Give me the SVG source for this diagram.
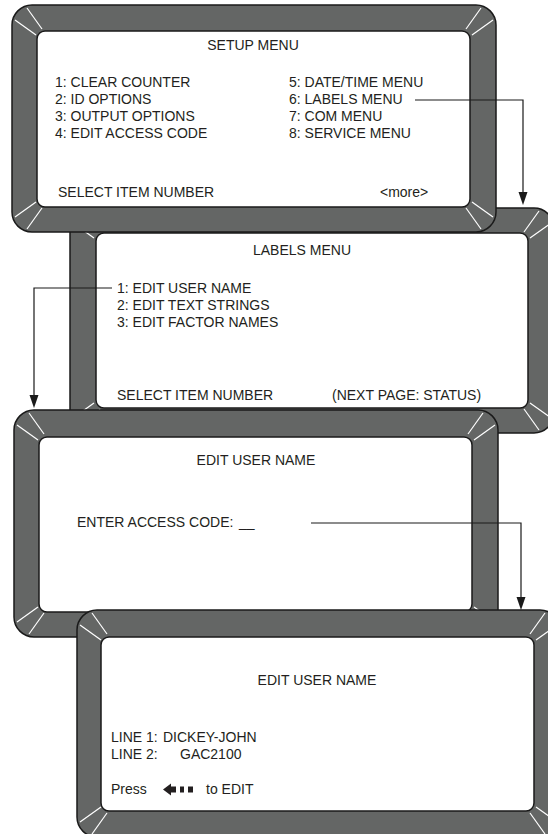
<svg xmlns="http://www.w3.org/2000/svg" xmlns:xlink="http://www.w3.org/1999/xlink" width="548" height="834" viewBox="0 0 548 834">
<style>
.outer{fill:#646665;stroke:#1a1a1a;stroke-width:1.5}
.inner{fill:#ffffff;stroke:#1a1a1a;stroke-width:1.5}
.bv line{stroke:#ffffff;stroke-width:1.2}
text{font-family:"Liberation Sans",Arial,sans-serif;font-size:14px;fill:#231f20}
.mid{text-anchor:middle}
.conn{fill:none;stroke:#1a1a1a;stroke-width:1.2}
.ah{fill:#1a1a1a}
</style>
<defs>
<g id="bv" class="bv"><line x1="15" y1="3" x2="30" y2="24"/><line x1="3" y1="15" x2="24" y2="30"/></g>
</defs>

<g id="labels-menu">
<rect class="outer" x="70" y="208" width="484" height="225" rx="20"/>
<rect class="inner" x="96" y="233" width="432" height="175" rx="8"/>
<use xlink:href="#bv" transform="translate(70,208)"/>
<use xlink:href="#bv" transform="translate(554,208) scale(-1,1)"/>
<use xlink:href="#bv" transform="translate(70,433) scale(1,-1)"/>
<use xlink:href="#bv" transform="translate(554,433) scale(-1,-1)"/>
<text class="mid" x="302" y="255">LABELS MENU</text>
<text x="117" y="293">1: EDIT USER NAME</text>
<text x="117" y="310">2: EDIT TEXT STRINGS</text>
<text x="117" y="327">3: EDIT FACTOR NAMES</text>
<text x="117" y="400">SELECT ITEM NUMBER</text>
<text x="332" y="400">(NEXT PAGE: STATUS)</text>
</g>

<g id="setup-menu">
<rect class="outer" x="12" y="5" width="484" height="227" rx="20"/>
<rect class="inner" x="37" y="31" width="433" height="176" rx="8"/>
<use xlink:href="#bv" transform="translate(12,5)"/>
<use xlink:href="#bv" transform="translate(496,5) scale(-1,1)"/>
<use xlink:href="#bv" transform="translate(12,232) scale(1,-1)"/>
<use xlink:href="#bv" transform="translate(496,232) scale(-1,-1)"/>
<text class="mid" x="253" y="50">SETUP MENU</text>
<text x="55" y="87">1: CLEAR COUNTER</text>
<text x="55" y="104">2: ID OPTIONS</text>
<text x="55" y="121">3: OUTPUT OPTIONS</text>
<text x="55" y="138">4: EDIT ACCESS CODE</text>
<text x="289" y="87">5: DATE/TIME MENU</text>
<text x="289" y="104">6: LABELS MENU</text>
<text x="289" y="121">7: COM MENU</text>
<text x="289" y="138">8: SERVICE MENU</text>
<text x="58" y="197">SELECT ITEM NUMBER</text>
<text x="380" y="197">&lt;more&gt;</text>
</g>

<g id="edit-user-name-code">
<rect class="outer" x="14" y="410" width="484" height="227" rx="20"/>
<rect class="inner" x="39" y="437" width="433" height="175" rx="8"/>
<use xlink:href="#bv" transform="translate(14,410)"/>
<use xlink:href="#bv" transform="translate(498,410) scale(-1,1)"/>
<use xlink:href="#bv" transform="translate(14,637) scale(1,-1)"/>
<use xlink:href="#bv" transform="translate(498,637) scale(-1,-1)"/>
<text class="mid" x="256" y="465">EDIT USER NAME</text>
<text x="77" y="527">ENTER ACCESS CODE:</text>
<text x="239" y="527">__</text>
</g>

<g id="edit-user-name">
<rect class="outer" x="77" y="610" width="483" height="227" rx="20"/>
<rect class="inner" x="101" y="637" width="433" height="174" rx="8"/>
<use xlink:href="#bv" transform="translate(77,610)"/>
<use xlink:href="#bv" transform="translate(560,610) scale(-1,1)"/>
<use xlink:href="#bv" transform="translate(77,837) scale(1,-1)"/>
<use xlink:href="#bv" transform="translate(560,837) scale(-1,-1)"/>
<text class="mid" x="317" y="685">EDIT USER NAME</text>
<text x="111" y="742">LINE 1:</text>
<text x="163" y="742">DICKEY-JOHN</text>
<text x="111" y="759">LINE 2:</text>
<text x="180" y="759">GAC2100</text>
<text x="111" y="794">Press</text>
<polygon points="163,789.5 171,783.5 171,786.5 176,786.5 176,792.5 171,792.5 171,795.5" fill="#231f20"/>
<rect x="180" y="786.5" width="4" height="6" fill="#231f20"/>
<rect x="188" y="786.5" width="5" height="6" fill="#231f20"/>
<text x="206" y="794">to EDIT</text>
</g>

<g id="connectors">
<path class="conn" d="M415,100 H523 V194"/>
<polygon class="ah" points="518.5,192 527.5,192 523,205"/>
<path class="conn" d="M112,288 H34 V397"/>
<polygon class="ah" points="29.5,395 38.5,395 34,408"/>
<path class="conn" d="M311,523 H521 V599"/>
<polygon class="ah" points="516.5,597 525.5,597 521,610"/>
</g>
</svg>
